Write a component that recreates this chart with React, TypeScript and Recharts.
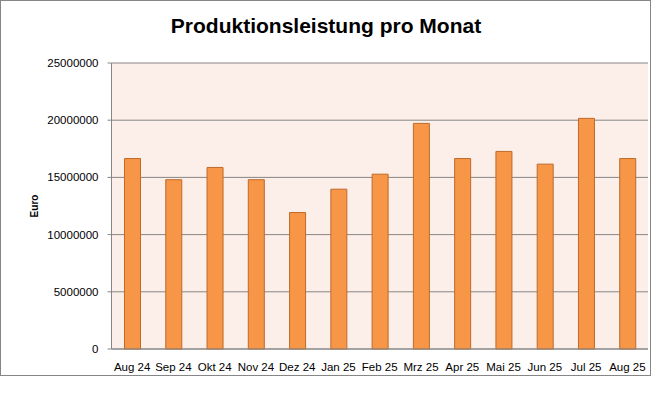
import { BarChart, Bar, XAxis, YAxis, CartesianGrid } from 'recharts';

const months = ['Aug 24', 'Sep 24', 'Okt 24', 'Nov 24', 'Dez 24', 'Jan 25', 'Feb 25', 'Mrz 25', 'Apr 25', 'Mai 25', 'Jun 25', 'Jul 25', 'Aug 25'];
const production = [16650000, 14800000, 15870000, 14800000, 11930000, 13970000, 15280000, 19720000, 16650000, 17270000, 16160000, 20160000, 16650000];
const yTicks = [0, 5000000, 10000000, 15000000, 20000000, 25000000];

const data = months.map((month, i) => ({ month, value: production[i] }));

const font = '"Liberation Sans", Arial, sans-serif';
const axisGray = '#868686';

export default function App() {
    return (
        <div style={{ position: 'absolute', left: 0, top: 0, width: 652, height: 399, background: '#fff', fontFamily: font }}>
            <div
                style={{
                    position: 'absolute', left: 0, top: 0, width: 651, height: 376,
                    border: `1px solid ${axisGray}`, boxSizing: 'border-box', pointerEvents: 'none',
                }}
            />
            <div
                style={{
                    position: 'absolute', left: 0, top: 12, width: 652, textAlign: 'center',
                    fontSize: 21, fontWeight: 'bold', lineHeight: '28px', color: '#000',
                }}
            >
                Produktionsleistung pro Monat
            </div>
            <div
                style={{
                    position: 'absolute', left: 34, top: 206, transform: 'translate(-50%, -50%) rotate(-90deg)',
                    fontSize: 10, fontWeight: 'bold', color: '#000', whiteSpace: 'nowrap',
                }}
            >
                Euro
            </div>
            <div style={{ position: 'absolute', left: 0, top: 0 }}>
                <BarChart width={652} height={376} data={data} margin={{ top: 63, right: 4, left: 0, bottom: 0 }}>
                    <CartesianGrid vertical={false} stroke={axisGray} fill="#FCEEE8" />
                    <XAxis
                        dataKey="month"
                        height={27}
                        stroke={axisGray}
                        tickLine={false}
                        tickSize={0}
                        tickMargin={14}
                        interval={0}
                        tick={{ fill: '#000', fontSize: 11.5, fontFamily: font }}
                    />
                    <YAxis
                        width={111.5}
                        domain={[0, 25000000]}
                        ticks={yTicks}
                        stroke={axisGray}
                        tickSize={4}
                        tickMargin={9}
                        interval={0}
                        tick={{ fill: '#000', fontSize: 11.5, fontFamily: font }}
                    />
                    <Bar dataKey="value" fill="#F79646" stroke="#BE6A2B" strokeWidth={1} barSize={16} isAnimationActive={false} />
                </BarChart>
            </div>
        </div>
    );
}
